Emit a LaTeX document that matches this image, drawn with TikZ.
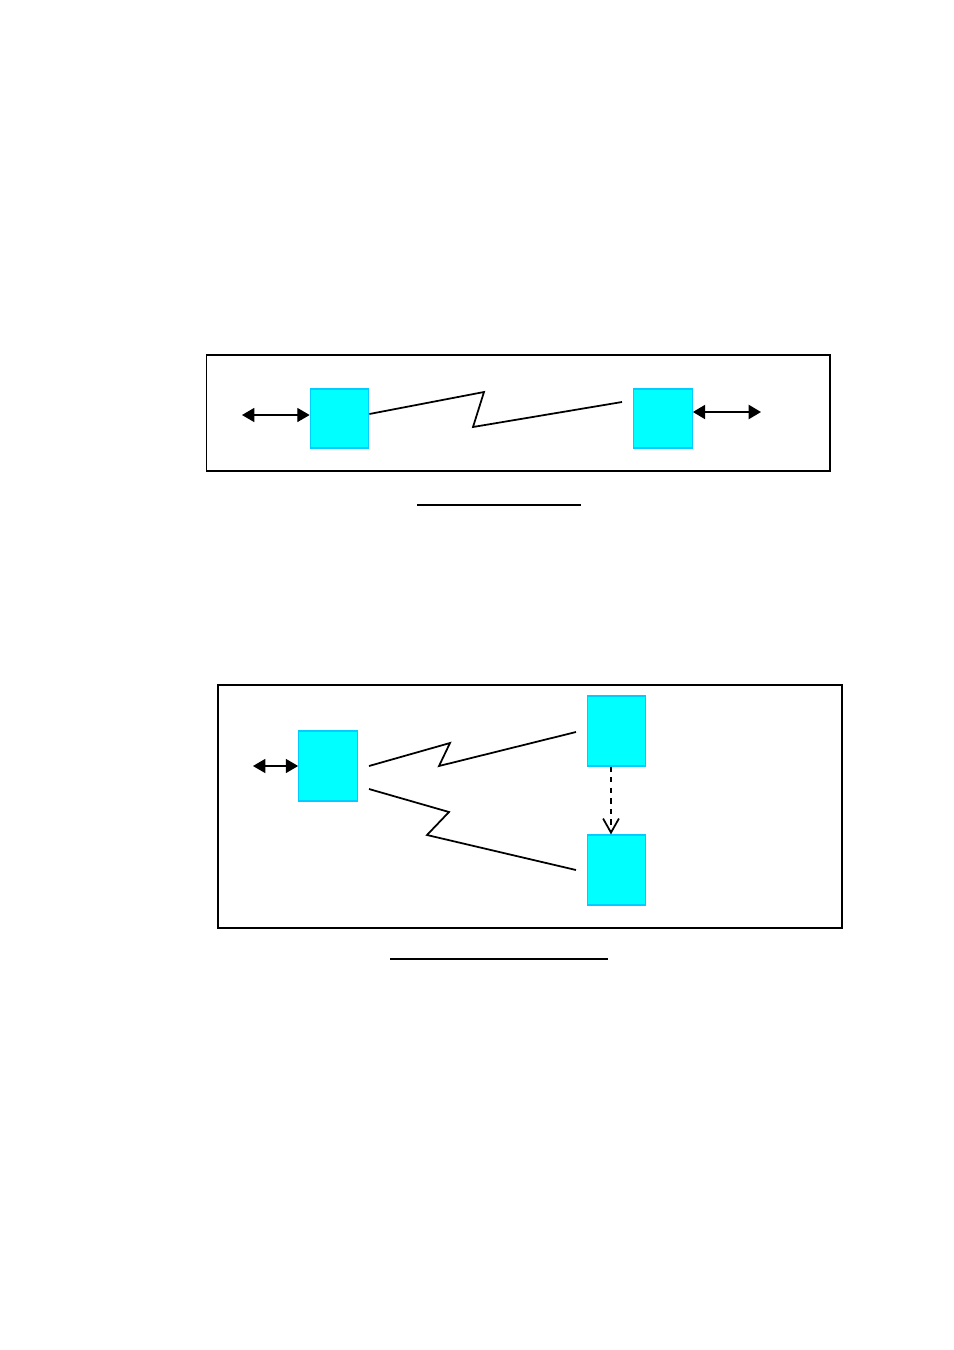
\documentclass[tikz,border=0pt]{standalone}
\usepackage{tikz}
\usepackage{xcolor}
\usetikzlibrary{arrows.meta, positioning}
\definecolor{cBox}{RGB}{0,255,255}
\definecolor{cEdge}{RGB}{0,204,255}
\tikzset{
	unit/.style     ={rectangle, draw=cEdge, line width=0.7pt, fill=cBox, inner sep=0pt, minimum width=1.17cm, minimum height=1.18cm},
	tallunit/.style ={unit, minimum height=1.4cm},
	frame/.style    ={draw=black, line width=0.7pt},
	link/.style     ={line width=1pt, line join=miter},
	port/.style     ={{Triangle[length=7pt,width=8pt]}-{Triangle[length=7pt,width=8pt]}, line width=0.7pt},
	fatport/.style  ={port, line width=1.1pt},
	relay/.style    ={-{Straight Barb[length=8pt,width=9pt]}, dashed, line width=1pt},
	capline/.style  ={line width=0.9pt},
}
\begin{document}
\begin{tikzpicture}[x=0.02cm, y=-0.02cm]
	\useasboundingbox (0,0) rectangle (954,1350);
	% point-to-point link
	\draw[frame] (206.5,355) rectangle (830,471);
	\node[unit] (ta) at (339.5,418.5) {};
	\node[unit] (tb) at (663,418.5) {};
	\coordinate (tl) at (242,415);
	\coordinate (tr) at (761,412);
	\draw[port] (tl) -- (ta.west |- tl);
	\draw[fatport] (tb.east |- tr) -- (tr);
	\draw[link] (ta.east |- 0,414) -- (484,392) -- (473,427) -- (622,402);
	\coordinate (u1a) at (417,505); \coordinate (u1b) at (581,505);
	\draw[capline] (u1a) -- (u1b);
	% point-to-multipoint link
	\draw[frame] (218,685) rectangle (842,928);
	\node[tallunit] (ba) at (328,766) {};
	\node[tallunit] (bb) at (616.5,731) {};
	\node[tallunit] (bc) at (616.5,870) {};
	\coordinate (bl) at (253,766);
	\draw[port] (bl) -- (ba.west);
	\draw[link] (369,766) -- (450,743) -- (439,766) -- (576,732);
	\draw[link] (369,789) -- (449,812) -- (427,835) -- (576,870);
	\draw[relay] (bb.south -| 611,0) -- (bc.north -| 611,0);
	\coordinate (u2a) at (390,959); \coordinate (u2b) at (608,959);
	\draw[capline] (u2a) -- (u2b);
\end{tikzpicture}
\end{document}
